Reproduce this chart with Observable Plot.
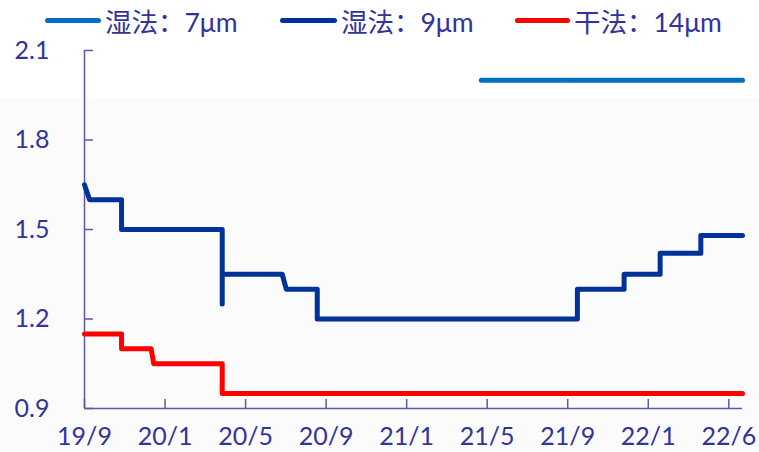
<!DOCTYPE html>
<html>
<head>
<meta charset="utf-8">
<script src="https://cdn.jsdelivr.net/npm/d3@7"></script>
<script src="https://cdn.jsdelivr.net/npm/@observablehq/plot@0.6"></script>
<style>
  body {
    margin: 0;
    width: 759px;
    height: 452px;
    overflow: hidden;
    background: linear-gradient(#ffffff 0 98px, #fbfbfb 98px);
    font-family: Lato, "Noto Sans CJK SC", sans-serif;
    color: #333399;
  }
  #legend { position: relative; height: 40px; }
  .item {
    position: absolute; top: 0; height: 40px;
    display: flex; align-items: center;
    font-size: 26.5px; white-space: nowrap;
  }
  .swatch { height: 5px; border-radius: 3px; margin-right: 4px; }
  #chart svg { display: block; }
</style>
</head>
<body>
<div id="legend"></div>
<div id="chart"></div>
<script>
// x runs in months from Sep 2019; ticks every four positions
const xTickPos = [0, 4, 8, 12, 16, 20, 24, 28, 32];
const xTickLabels = ["19/9", "20/1", "20/5", "20/9", "21/1", "21/5", "21/9", "22/1", "22/6"];
const yTicks = [0.9, 1.2, 1.5, 1.8, 2.1];

// 湿法 7μm (two quoted segments)
const wet7Seg = [0, 0, 1, 1];
const wet7X = [19.71, 24.17, 24.23, 32.68];
const wet7Y = [2.0, 2.0, 2.0, 2.0];

// 湿法 9μm
const wet9X = [0, 0.25, 1.84, 1.84, 6.84, 6.84, 6.84, 9.82, 10.02, 11.56, 11.56, 24.48, 24.48, 26.8, 26.8, 28.59, 28.59, 30.61, 30.61, 32.68];
const wet9Y = [1.65, 1.60, 1.60, 1.50, 1.50, 1.25, 1.35, 1.35, 1.30, 1.30, 1.20, 1.20, 1.30, 1.30, 1.35, 1.35, 1.42, 1.42, 1.48, 1.48];

// 干法 14μm
const dry14X = [0, 1.84, 1.84, 3.31, 3.44, 6.84, 6.84, 32.68];
const dry14Y = [1.15, 1.15, 1.10, 1.10, 1.05, 1.05, 0.95, 0.95];

const seriesNames = ["湿法：7μm", "湿法：9μm", "干法：14μm"];
const seriesColors = ["#0070c0", "#003399", "#ff0000"];

const ink = "#333399";
const axisInk = "#5a5aa8";

// legend
const legend = document.getElementById("legend");
const legendLeft = [45, 280, 515];
const swatchW = [56, 57, 55];
seriesNames.forEach((name, i) => {
  const item = document.createElement("div");
  item.className = "item";
  item.style.left = legendLeft[i] + "px";
  const sw = document.createElement("div");
  sw.className = "swatch";
  sw.style.width = swatchW[i] + "px";
  sw.style.background = seriesColors[i];
  const label = document.createElement("span");
  label.textContent = name;
  item.append(sw, label);
  legend.append(item);
});

const wet7 = wet7X.map((x, i) => ({x, y: wet7Y[i], seg: wet7Seg[i]}));
const wet9 = wet9X.map((x, i) => ({x, y: wet9Y[i]}));
const dry14 = dry14X.map((x, i) => ({x, y: dry14Y[i]}));

const width = 759, height = 412;
const margin = {top: 10, right: 17, bottom: 44, left: 84};
const plotW = width - margin.left - margin.right;
const plotH = height - margin.top - margin.bottom;

const lineStyle = {strokeWidth: 5, strokeLinecap: "round", strokeLinejoin: "round"};

const chart = Plot.plot({
  width, height,
  marginTop: margin.top, marginRight: margin.right,
  marginBottom: margin.bottom, marginLeft: margin.left,
  style: {fontFamily: "Lato, 'Noto Sans CJK SC', sans-serif", color: ink, background: "transparent", overflow: "visible"},
  x: {domain: [0, 32.68]},
  y: {domain: [0.9, 2.1]},
  marks: [
    Plot.ruleX([0], {stroke: axisInk, strokeWidth: 1.5}),
    Plot.ruleY([0.9], {stroke: axisInk, strokeWidth: 1.5}),
    Plot.tickY(yTicks, {y: d => d, stroke: axisInk, strokeWidth: 1.5, insetRight: plotW - 9}),
    Plot.tickX(xTickPos, {x: d => d, stroke: axisInk, strokeWidth: 1.5, insetTop: plotH - 9}),
    Plot.axisY(yTicks, {tickSize: 0, tickPadding: 35, fontSize: 25, fill: ink, label: null, tickFormat: d3.format(".1f")}),
    Plot.axisX(xTickPos, {tickSize: 0, tickPadding: 19, fontSize: 25, fill: ink, label: null,
      tickFormat: d => xTickLabels[xTickPos.indexOf(d)]}),
    Plot.line(dry14, {x: "x", y: "y", stroke: seriesColors[2], ...lineStyle}),
    Plot.line(wet9, {x: "x", y: "y", stroke: seriesColors[1], ...lineStyle}),
    Plot.line(wet7, {x: "x", y: "y", z: "seg", stroke: seriesColors[0], ...lineStyle})
  ]
});
document.getElementById("chart").append(chart);
</script>
</body>
</html>
